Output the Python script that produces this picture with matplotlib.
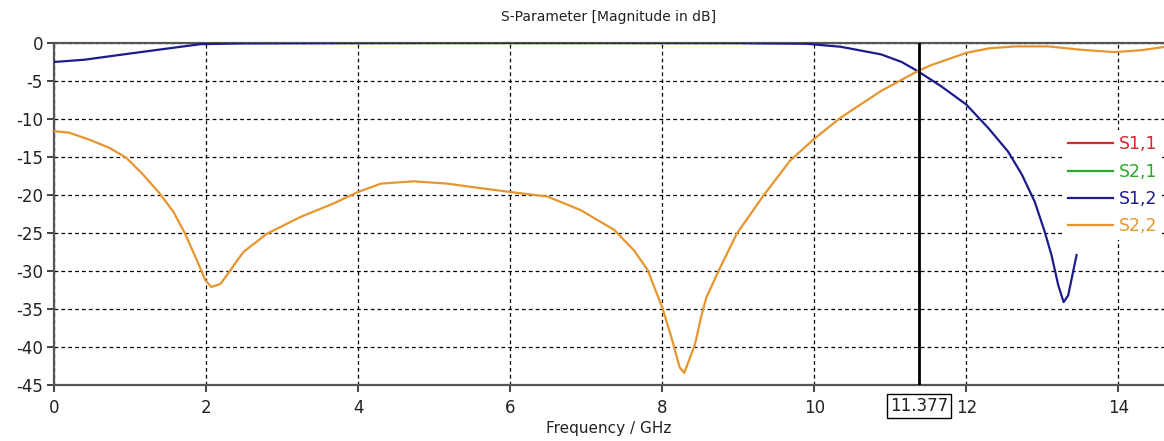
import numpy as np
import matplotlib
matplotlib.use('Agg')
from matplotlib import pyplot as plt

# frequency (GHz) / magnitude (dB)
freq_s12 = [0, 0.4, 0.84, 1.4, 1.93, 2.5, 3.5, 5, 7, 9, 9.9, 10.35, 10.88, 11.15, 11.36,
            11.67, 12.0, 12.29, 12.55, 12.73, 12.9, 13.03, 13.12, 13.21, 13.28, 13.34, 13.45]
mag_s12 = [-2.5, -2.2, -1.6, -0.85, -0.15, -0.05, -0.03, 0, 0, -0.02, -0.1, -0.5, -1.5, -2.5, -3.7,
           -5.7, -8.1, -11.2, -14.3, -17.3, -20.9, -24.8, -27.9, -31.9, -34.1, -33.2, -27.9]

freq_s22 = [0, 0.2, 0.46, 0.73, 0.95, 1.17, 1.39, 1.57, 1.72, 1.88, 1.99, 2.07, 2.19, 2.32,
            2.49, 2.8, 3.24, 3.68, 4.0, 4.3, 4.73, 5.17, 5.61, 6.0, 6.49, 6.93, 7.37, 7.63,
            7.81, 8.0, 8.12, 8.23, 8.29, 8.43, 8.51, 8.58, 8.76, 8.98, 9.33, 9.68, 10.0,
            10.35, 10.88, 11.36, 11.54, 12.0, 12.3, 12.64, 13.08, 13.52, 13.95, 14.3, 14.62]
mag_s22 = [-11.6, -11.8, -12.7, -13.8, -15.1, -17.3, -19.8, -22.2, -25.0, -28.6, -31.2, -32.1,
           -31.7, -29.9, -27.5, -25.1, -22.9, -21.1, -19.6, -18.5, -18.2, -18.5, -19.1, -19.6,
           -20.2, -22.0, -24.6, -27.3, -29.9, -34.8, -38.7, -42.7, -43.4, -39.7, -36.1, -33.5,
           -29.6, -25.1, -20.1, -15.5, -12.6, -9.8, -6.3, -3.7, -2.9, -1.3, -0.7, -0.45, -0.45,
           -0.9, -1.2, -0.95, -0.5]

labels = ['S1,1', 'S2,1', 'S1,2', 'S2,2']
colors = ['#d42a2a', '#2aa82a', '#1c1c8c', '#e6962e']
cursor = 11.377
xticks = [0, 2, 4, 6, 8, 10, 12, 14]
yticks = [0, -5, -10, -15, -20, -25, -30, -35, -40, -45]

plt.rcParams['font.family'] = ['DejaVu Sans']

fig = plt.figure(figsize=(11.64, 4.41), dpi=100)
ax = fig.add_axes([54 / 1164, 56 / 441, 1110 / 1164, 342 / 441])

# empty S1,1 / S2,1 so that they show up in the legend only
ax.plot([], [], color=colors[0], lw=1.6, label=labels[0])
ax.plot([], [], color=colors[1], lw=1.6, label=labels[1])
ax.plot(freq_s12, mag_s12, color=colors[2], lw=1.6, label=labels[2], zorder=3)
ax.plot(freq_s22, mag_s22, color=colors[3], lw=1.6, label=labels[3], zorder=3)

ax.set_xlim(0, 14.6)
ax.set_ylim(-45, 0)
ax.set_xticks(xticks)
ax.set_yticks(yticks)
ax.set_xticklabels([str(t) for t in xticks])
ax.set_yticklabels([str(t) for t in yticks])
ax.tick_params(labelsize=12, colors='#222222', length=5, width=1.2, direction='out')
ax.tick_params(axis='x', pad=5)
ax.tick_params(axis='y', pad=3)

ax.grid(True, color='black', lw=0.9, linestyle=(0, (3, 2.5)), zorder=1)
ax.set_axisbelow(True)

for side in ['left', 'bottom', 'top']:
    ax.spines[side].set_color('#555555')
    ax.spines[side].set_linewidth(1.6)
ax.spines['right'].set_visible(False)

ax.set_title('S-Parameter [Magnitude in dB]', fontsize=10, color='#222222', pad=16)
ax.set_xlabel('Frequency / GHz', fontsize=11, color='#222222', labelpad=3)

# cursor line and value box
ax.axvline(cursor, color='black', lw=2, zorder=4)
ax.annotate('%.3f' % cursor, xy=(cursor, 0), xycoords=('data', 'axes fraction'),
            xytext=(0, -15), textcoords='offset points', ha='center', va='center',
            fontsize=12, color='#222222',
            bbox=dict(boxstyle='square,pad=0.2', fc='white', ec='black', lw=1))

leg = ax.legend(loc='upper left', bbox_to_anchor=(0.909, 0.745), fontsize=12.5,
                handlelength=2.6, handletextpad=0.3, labelspacing=0.53,
                frameon=True, fancybox=False, borderpad=0.3, borderaxespad=0)
leg.get_frame().set_edgecolor('none')
leg.get_frame().set_facecolor('white')
leg.get_frame().set_alpha(1)
for txt, c in zip(leg.get_texts(), colors):
    txt.set_color(c)

fig.savefig('out.png', dpi=100)
